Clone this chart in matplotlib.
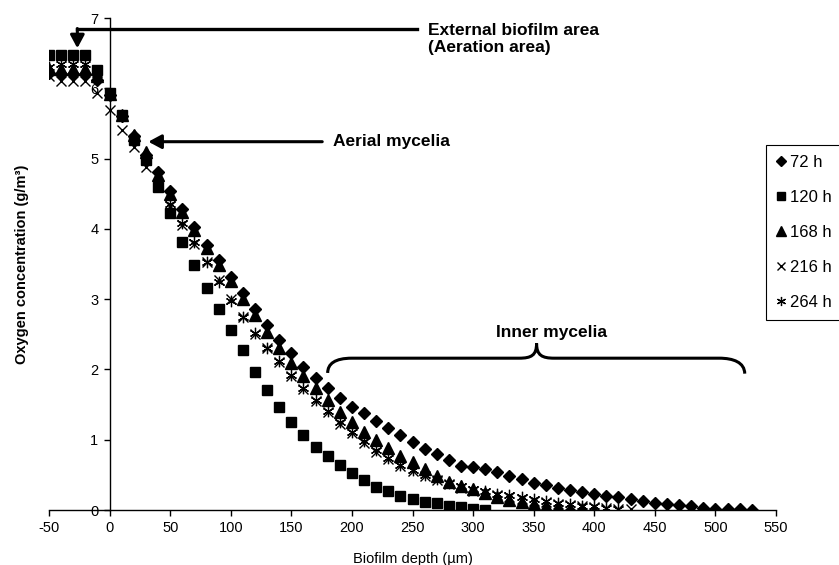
import matplotlib.pyplot as plt
from matplotlib.path import Path
from matplotlib.patches import PathPatch

plt.rcParams['font.family'] = ['Liberation Sans', 'DejaVu Sans']
plt.rcParams['axes.unicode_minus'] = False

# biofilm depth (um), each series uses the first len(series) depths
depth = [-50, -40, -30, -20, -10, 0, 10, 20, 30, 40, 50, 60, 70, 80, 90,
         100, 110, 120, 130, 140, 150, 160, 170, 180, 190, 200, 210, 220,
         230, 240, 250, 260, 270, 280, 290, 300, 310, 320, 330, 340, 350,
         360, 370, 380, 390, 400, 410, 420, 430, 440, 450, 460, 470, 480,
         490, 500, 510, 520, 530]

# oxygen concentration (g/m3)
o2_72h = [6.22, 6.20, 6.20, 6.20, 6.12, 5.90, 5.60, 5.32, 5.05, 4.81, 4.54,
          4.28, 4.02, 3.77, 3.55, 3.31, 3.09, 2.86, 2.63, 2.42, 2.23, 2.04,
          1.88, 1.73, 1.60, 1.47, 1.38, 1.27, 1.17, 1.07, 0.97, 0.87, 0.80,
          0.71, 0.63, 0.61, 0.59, 0.54, 0.49, 0.44, 0.39, 0.36, 0.32, 0.28,
          0.25, 0.23, 0.20, 0.18, 0.15, 0.13, 0.10, 0.09, 0.07, 0.05, 0.03,
          0.02, 0.01, 0.01, 0.00]
o2_120h = [6.47, 6.47, 6.47, 6.47, 6.26, 5.94, 5.62, 5.27, 4.98, 4.59, 4.22,
           3.82, 3.49, 3.16, 2.86, 2.56, 2.27, 1.97, 1.71, 1.46, 1.25, 1.06,
           0.90, 0.77, 0.64, 0.53, 0.43, 0.33, 0.27, 0.20, 0.16, 0.12, 0.10,
           0.06, 0.04, 0.02, 0.00]
o2_168h = [6.27, 6.27, 6.27, 6.27, 6.17, 5.92, 5.62, 5.33, 5.10, 4.76, 4.50,
           4.24, 3.98, 3.73, 3.49, 3.26, 3.00, 2.77, 2.53, 2.30, 2.09, 1.90,
           1.73, 1.56, 1.40, 1.25, 1.11, 0.99, 0.88, 0.77, 0.68, 0.58, 0.48,
           0.40, 0.34, 0.30, 0.24, 0.19, 0.14, 0.11, 0.08, 0.06, 0.04, 0.02,
           0.01, 0.00]
o2_216h = [6.17, 6.10, 6.10, 6.10, 5.93, 5.69, 5.41, 5.17, 4.88, 4.62, 4.33,
           4.05, 3.79, 3.53, 3.27, 3.00, 2.74, 2.51, 2.30, 2.10, 1.91, 1.72,
           1.55, 1.39, 1.23, 1.09, 0.96, 0.83, 0.72, 0.63, 0.56, 0.48, 0.43,
           0.37, 0.32, 0.27, 0.24, 0.21, 0.18, 0.16, 0.13, 0.11, 0.09, 0.07,
           0.05, 0.04, 0.03, 0.02, 0.01]
o2_264h = [6.30, 6.35, 6.35, 6.35, 6.20, 5.90, 5.60, 5.25, 4.95, 4.66, 4.36,
           4.08, 3.81, 3.53, 3.25, 2.98, 2.75, 2.52, 2.31, 2.12, 1.92, 1.73,
           1.57, 1.41, 1.25, 1.11, 0.98, 0.85, 0.74, 0.64, 0.57, 0.50, 0.44,
           0.39, 0.34, 0.30, 0.27, 0.23, 0.21, 0.18, 0.15, 0.13, 0.10, 0.08,
           0.06, 0.05, 0.03, 0.02]

labels = ['72 h', '120 h', '168 h', '216 h', '264 h']

fig = plt.figure(figsize=(8.39, 5.65), dpi=100)
ax = fig.add_axes([49 / 839, 55 / 565, 727 / 839, 492 / 565])

ax.plot(depth[:len(o2_72h)], o2_72h, ls='none', marker='D', ms=6.2,
        color='black', label=labels[0])
ax.plot(depth[:len(o2_120h)], o2_120h, ls='none', marker='s', ms=7.8,
        color='black', label=labels[1])
ax.plot(depth[:len(o2_168h)], o2_168h, ls='none', marker='^', ms=8.2,
        color='black', label=labels[2])
ax.plot(depth[:len(o2_216h)], o2_216h, ls='none', marker='x', ms=7.2,
        mew=1.0, color='black', label=labels[3])
ax.plot(depth[:len(o2_264h)], o2_264h, ls='none', marker=(6, 2, 0), ms=8.2,
        mew=0.9, color='black', label=labels[4])

# axes in Excel style: y axis crossing at depth 0
ax.set_xlim(-50, 550)
ax.set_ylim(0, 7)
ax.set_xticks(range(-50, 551, 50))
ax.set_yticks(range(0, 8))
ax.spines['left'].set_position(('data', 0))
ax.spines['top'].set_visible(False)
ax.spines['right'].set_visible(False)
for s in ('left', 'bottom'):
    ax.spines[s].set_linewidth(1.0)
ax.tick_params(direction='out', length=4, width=1.0, labelsize=10.5, pad=4)

ax.set_xlabel('Biofilm depth (µm)', fontsize=10.5)
ax.xaxis.set_label_coords(0.5, -0.085)
ax.set_ylabel('Oxygen concentration (g/m³)', fontsize=10.5, fontweight='bold')
ax.yaxis.set_label_coords(-0.027, 0.5)

# annotations
arrow_kw = dict(arrowstyle='-|>,head_length=0.65,head_width=0.35',
                mutation_scale=12, lw=2.2, color='black',
                shrinkA=0, shrinkB=0)
ax.plot([253.6, -26.6], [6.85, 6.85], color='black', lw=2.4,
        solid_capstyle='projecting')
ax.annotate('', xy=(-26.6, 6.57), xytext=(-26.6, 6.85), arrowprops=arrow_kw)
ax.text(263, 6.70, 'External biofilm area\n(Aeration area)', fontsize=12.5,
        fontweight='bold', ha='left', va='center', linespacing=1.1)

ax.annotate('', xy=(32, 5.24), xytext=(175.5, 5.24), arrowprops=arrow_kw)
ax.text(184, 5.24, 'Aerial mycelia', fontsize=12.5, fontweight='bold',
        ha='left', va='center')

brace = Path(
    [(180, 1.95), (180, 2.08), (186, 2.16), (200, 2.16),
     (338, 2.16),
     (348, 2.16), (352.4, 2.20), (352.4, 2.37),
     (352.4, 2.20), (357, 2.16), (367, 2.16),
     (503, 2.16),
     (515, 2.16), (524, 2.10), (524.2, 1.94)],
    [Path.MOVETO, Path.CURVE4, Path.CURVE4, Path.CURVE4,
     Path.LINETO,
     Path.CURVE4, Path.CURVE4, Path.CURVE4,
     Path.CURVE4, Path.CURVE4, Path.CURVE4,
     Path.LINETO,
     Path.CURVE4, Path.CURVE4, Path.CURVE4])
ax.add_patch(PathPatch(brace, fill=False, lw=2.2, color='black'))
ax.text(364.8, 2.52, 'Inner mycelia', fontsize=12.5, fontweight='bold',
        ha='center', va='center')

leg = ax.legend(loc='lower left', bbox_to_anchor=(766 / 839, 1 - 320 / 565),
                bbox_transform=fig.transFigure, fancybox=False,
                edgecolor='black', framealpha=1, fontsize=12,
                handlelength=0.6, handletextpad=0.25, labelspacing=1.2,
                borderpad=0.6, markerscale=0.8, numpoints=1, borderaxespad=0)
leg.get_frame().set_linewidth(0.8)

fig.savefig('out.png', dpi=100)
